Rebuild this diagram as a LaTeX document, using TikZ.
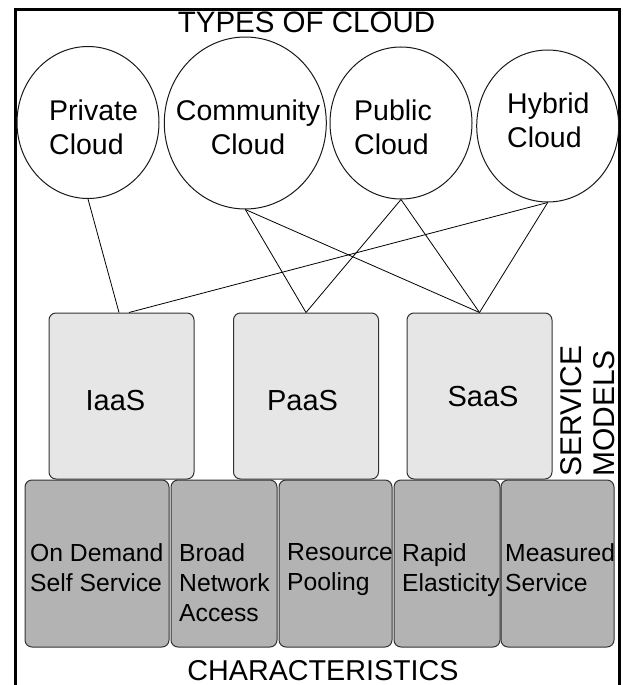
\documentclass[tikz,border=0pt]{standalone}
\usepackage{fontspec}
\setmainfont{Liberation Sans}
\usetikzlibrary{shapes.geometric}

\definecolor{svcfill}{HTML}{E6E6E6}
\definecolor{chrfill}{HTML}{B3B3B3}
\definecolor{boxedge}{HTML}{333333}

\begin{document}
\begin{tikzpicture}[x=1pt,y=-1pt,
  cloudshape/.style={ellipse, draw=black!90, line width=1pt, inner sep=0pt},
  cloudtext/.style={inner sep=0pt, font=\fontsize{28.5}{34}\selectfont},
  svcbox/.style={draw=boxedge, fill=svcfill, line width=1pt, rounded corners=7pt,
    minimum width=145pt, minimum height=166pt, inner sep=0pt},
  svctext/.style={inner sep=0pt, anchor=base, font=\fontsize{29}{34}\selectfont},
  chrbox/.style={draw=boxedge, fill=chrfill, line width=1pt, rounded corners=7pt,
    minimum height=167pt, inner sep=0pt},
  chrtext/.style={inner sep=0pt, anchor=north west, align=left,
    font=\fontsize{24.7}{30}\selectfont},
  heading/.style={inner sep=0pt, font=\fontsize{29.5}{34}\selectfont},
  link/.style={draw=black, line width=0.8pt}]

\useasboundingbox (0,0) rectangle (623,685);

% outer frame, open at the bottom
\draw[line width=3pt] (15,687) -- (15,10) -- (619.7,10) -- (619.7,687);

% types of cloud
\node[heading, anchor=north] (title) at (306.5,12) {TYPES OF CLOUD};

\node[cloudshape, minimum width=142pt, minimum height=152pt] (priv) at (88,122.5) {};
\node[cloudshape, minimum width=162pt, minimum height=172pt] (comm) at (245.3,123) {};
\node[cloudshape, minimum width=142pt, minimum height=152pt] (pub)  at (401,123) {};
\node[cloudshape, minimum width=142pt, minimum height=152pt] (hyb)  at (547.7,126) {};

\node[cloudtext, anchor=north west, align=left]  (privT) at (49,99.5) {Private\\Cloud};
\node[cloudtext, anchor=north, align=center]     (commT) at (248,100) {Community\\Cloud};
\node[cloudtext, anchor=north west, align=left]  (pubT)  at (354,100) {Public\\Cloud};
\node[cloudtext, anchor=north west, align=left]  (hybT)  at (507,93)  {Hybrid\\Cloud};

% service models
\node[svcbox] (iaas) at (121.5,396) {};
\node[svcbox] (paas) at (306,396)   {};
\node[svcbox] (saas) at (479.5,396) {};

\node[svctext] (iaasT) at (115.5,410) {IaaS};
\node[svctext] (paasT) at (302.5,410) {PaaS};
\node[svctext] (saasT) at (483,406)   {SaaS};

\node[inner sep=0pt, rotate=90, anchor=south west, align=left,
      font=\fontsize{30}{32.5}\selectfont] (svcT) at (614.5,477) {SERVICE\\MODELS};

% links from deployment types to service models
\draw[link] (priv.south) -- ([xshift=-2.5pt]iaas.north);
\draw[link] (hyb.south)  -- ([xshift=7.5pt]iaas.north);
\draw[link] (comm.south) -- (paas.north);
\draw[link] (comm.south) -- (saas.north);
\draw[link] (pub.south)  -- (paas.north);
\draw[link] (pub.south)  -- (saas.north);
\draw[link] (hyb.south)  -- (saas.north);

% characteristics
\node[chrbox, minimum width=144pt] (c1) at (97,563.5)  {};
\node[chrbox, minimum width=106pt] (c2) at (224,563.5) {};
\node[chrbox, minimum width=113pt] (c3) at (335.5,563.5) {};
\node[chrbox, minimum width=106pt] (c4) at (447,563.5) {};
\node[chrbox, minimum width=113pt] (c5) at (557.5,563.5) {};

\node[chrtext] (t1) at (30,543)  {On Demand\\Self Service};
\node[chrtext] (t2) at (179,543) {Broad\\Network\\Access};
\node[chrtext] (t3) at (287,543) {Resource\\Pooling};
\node[chrtext] (t4) at (402,543) {Rapid\\Elasticity};
\node[chrtext] (t5) at (505,543) {Measured\\Service};

\node[heading, anchor=north, font=\fontsize{28.7}{34}\selectfont] (chrT) at (323,660.5) {CHARACTERISTICS};

\end{tikzpicture}
\end{document}
